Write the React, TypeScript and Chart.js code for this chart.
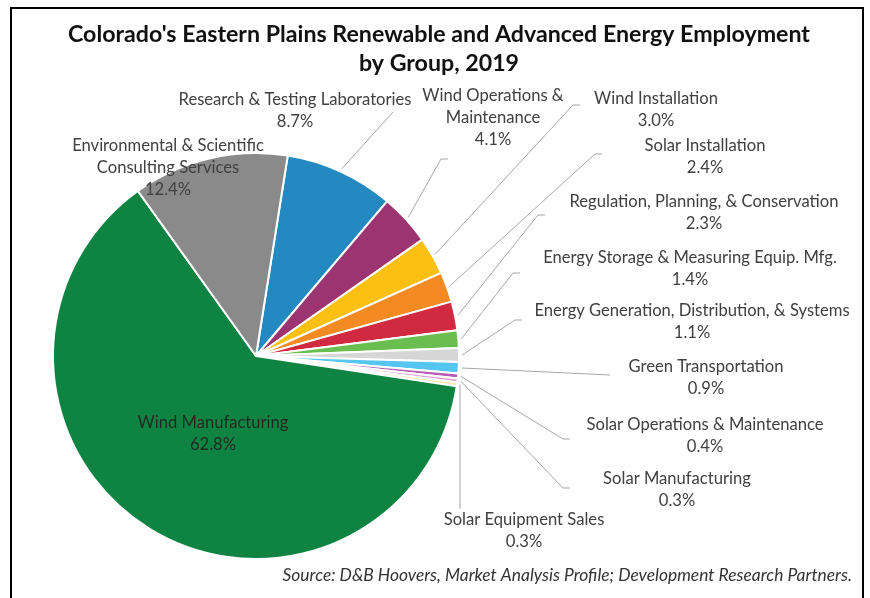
import React, { useEffect, useRef } from "react";
import { Chart, registerables } from "chart.js";

Chart.register(...registerables);

// ---- Data ----
const categories: string[] = [
  "Research & Testing Laboratories",
  "Wind Operations & Maintenance",
  "Wind Installation",
  "Solar Installation",
  "Regulation, Planning, & Conservation",
  "Energy Storage & Measuring Equip. Mfg.",
  "Energy Generation, Distribution, & Systems",
  "Green Transportation",
  "Solar Operations & Maintenance",
  "Solar Manufacturing",
  "Solar Equipment Sales",
  "Wind Manufacturing",
  "Environmental & Scientific Consulting Services",
];
const shares: number[] = [8.7, 4.1, 3.0, 2.4, 2.3, 1.4, 1.1, 0.9, 0.4, 0.3, 0.3, 62.8, 12.4];
const labelLines: string[][] = [
  ["Research & Testing Laboratories"],
  ["Wind Operations &", "Maintenance"],
  ["Wind Installation"],
  ["Solar Installation"],
  ["Regulation, Planning, & Conservation"],
  ["Energy Storage & Measuring Equip. Mfg."],
  ["Energy Generation, Distribution, & Systems"],
  ["Green Transportation"],
  ["Solar Operations & Maintenance"],
  ["Solar Manufacturing"],
  ["Solar Equipment Sales"],
  ["Wind Manufacturing"],
  ["Environmental & Scientific", "Consulting Services"],
];
const titleLines: string[] = [
  "Colorado's Eastern Plains Renewable and Advanced Energy Employment",
  "by Group, 2019",
];
const sourceText = "Source: D&B Hoovers, Market Analysis Profile; Development Research Partners.";

// ---- Styles ----
const sliceColors: string[] = [
  "#2389c0", "#9b3470", "#fcc012", "#f38b22", "#d02940", "#6abd4f",
  "#d6d6d6", "#56c6f1", "#b45cb4", "#e2a6d6", "#f9e6a8", "#0f8442", "#8a8a8a",
];

// ---- Label layout (text centre x, first line y, elbow, end) ----
type LabelPos = { x: number; y: number; elbow?: [number, number]; end?: [number, number]; dark?: boolean };
const labelLayout: LabelPos[] = [
  { x: 295, y: 100, elbow: [393, 112] },
  { x: 493, y: 96, elbow: [441, 159], end: [448, 159] },
  { x: 656, y: 99, elbow: [573, 105], end: [580, 105] },
  { x: 705, y: 146, elbow: [595, 154], end: [602, 154] },
  { x: 704, y: 202, elbow: [538, 215], end: [545, 215] },
  { x: 690, y: 258, elbow: [513, 273], end: [520, 273] },
  { x: 692, y: 311, elbow: [515, 320], end: [522, 320] },
  { x: 706, y: 367, elbow: [610, 375] },
  { x: 705, y: 425, elbow: [563, 439], end: [570, 439] },
  { x: 677, y: 479, elbow: [563, 488], end: [570, 488] },
  { x: 524, y: 520, elbow: [460, 509] },
  { x: 213, y: 423, dark: true },
  { x: 168, y: 146 },
];

const FONT = "Lato, 'Open Sans', sans-serif";

const decorPlugin = {
  id: "decor",
  afterDatasetsDraw(chart: any) {
    const ctx: CanvasRenderingContext2D = chart.ctx;
    const meta = chart.getDatasetMeta(0);
    ctx.save();
    // leader lines
    ctx.strokeStyle = "#a6a6a6";
    ctx.lineWidth = 1;
    meta.data.forEach((arc: any, i: number) => {
      const lp = labelLayout[i];
      if (!lp.elbow) return;
      const mid = (arc.startAngle + arc.endAngle) / 2;
      const r = arc.outerRadius + 3;
      const sx = arc.x + Math.cos(mid) * r;
      const sy = arc.y + Math.sin(mid) * r;
      ctx.beginPath();
      ctx.moveTo(sx, sy);
      ctx.lineTo(lp.elbow[0], lp.elbow[1]);
      if (lp.end) ctx.lineTo(lp.end[0], lp.end[1]);
      ctx.stroke();
    });
    // labels
    ctx.textAlign = "center";
    ctx.textBaseline = "middle";
    ctx.font = `16.6px ${FONT}`;
    meta.data.forEach((_arc: any, i: number) => {
      const lp = labelLayout[i];
      ctx.fillStyle = lp.dark ? "#1e2a22" : "#404040";
      const lines = [...labelLines[i], shares[i].toFixed(1) + "%"];
      lines.forEach((t, k) => ctx.fillText(t, lp.x, lp.y + k * 22));
    });
    // title
    ctx.fillStyle = "#111111";
    ctx.font = `bold 23.2px ${FONT}`;
    ctx.fillText(titleLines[0], 439, 35);
    ctx.fillText(titleLines[1], 439, 64);
    // source
    ctx.font = `italic 17.4px ${FONT}`;
    ctx.textAlign = "right";
    ctx.fillStyle = "#333333";
    ctx.fillText(sourceText, 852, 575);
    // frame
    ctx.strokeStyle = "#000000";
    ctx.lineWidth = 2;
    ctx.strokeRect(11, 8, 852, 620);
    ctx.restore();
  },
};

export default function App() {
  const ref = useRef<HTMLCanvasElement | null>(null);
  useEffect(() => {
    document.body.style.margin = "0";
    const chart = new Chart(ref.current as HTMLCanvasElement, {
      type: "pie",
      data: {
        labels: categories,
        datasets: [
          {
            data: shares,
            backgroundColor: sliceColors,
            borderColor: "#ffffff",
            borderWidth: 2,
          },
        ],
      },
      options: {
        responsive: false,
        animation: false,
        rotation: 9,
        layout: { padding: { left: 52, top: 152, right: 410, bottom: 38 } },
        plugins: {
          legend: { display: false },
          title: { display: false },
          tooltip: { enabled: false },
        },
      },
      plugins: [decorPlugin],
    });
    return () => chart.destroy();
  }, []);
  return (
    <div style={{ position: "absolute", left: 0, top: 0, width: 870, height: 598, background: "#fff" }}>
      <canvas ref={ref} width={870} height={598} style={{ width: 870, height: 598 }} />
    </div>
  );
}
